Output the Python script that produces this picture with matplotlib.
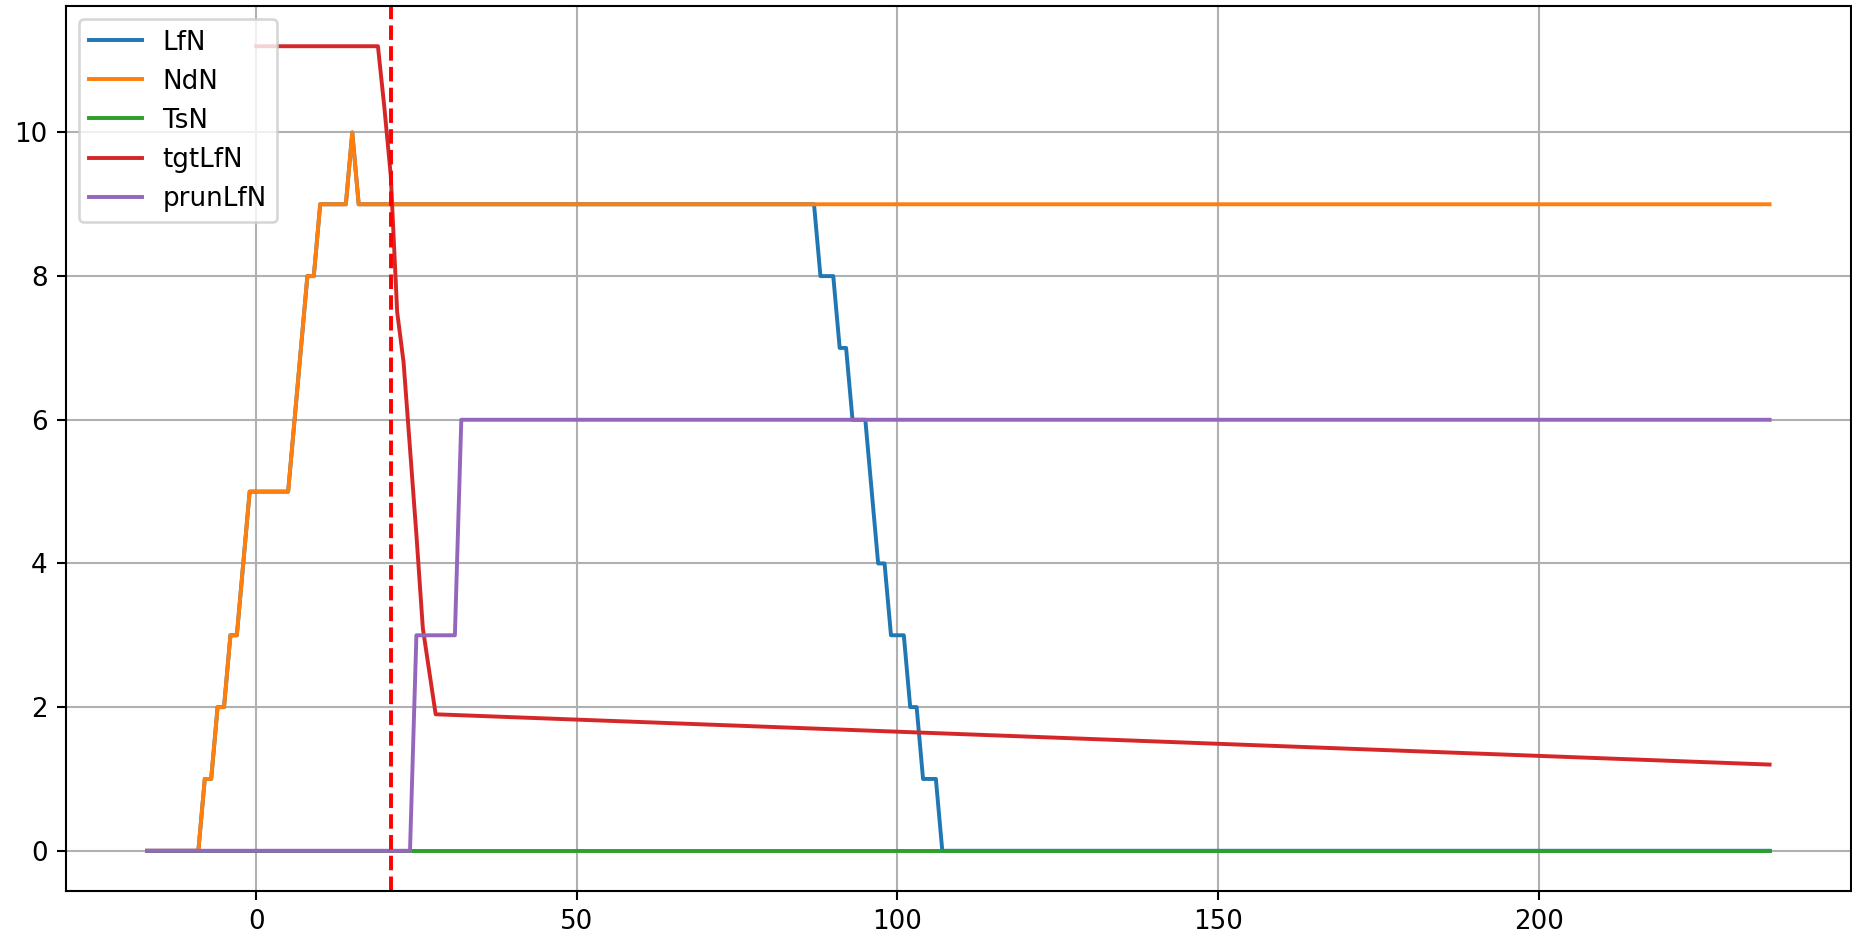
import numpy as np
import matplotlib.pyplot as plt

# breakpoints (x, value)
ndn_x = [-17, -9, -8, -7, -6, -5, -4, -3, -1, 5, 8, 9, 10, 14, 15, 16, 236]
ndn_y = [0, 0, 1, 1, 2, 2, 3, 3, 5, 5, 8, 8, 9, 9, 10, 9, 9]

lfn_x = [-17, -9, -8, -7, -6, -5, -4, -3, -1, 5, 8, 9, 10, 14, 15, 16,
         87, 88, 90, 91, 92, 93, 95, 97, 98, 99, 101, 102, 103, 104, 106, 107, 236]
lfn_y = [0, 0, 1, 1, 2, 2, 3, 3, 5, 5, 8, 8, 9, 9, 10, 9,
         9, 8, 8, 7, 7, 6, 6, 4, 4, 3, 3, 2, 2, 1, 1, 0, 0]

tsn_x = [-17, 236]
tsn_y = [0, 0]

tgt_x = [0, 19, 20, 21, 22, 23, 24, 25, 26, 27, 28, 236]
tgt_y = [11.2, 11.2, 10.35, 9.4, 7.5, 6.8, 5.6, 4.4, 3.1, 2.5, 1.9, 1.2]

prun_x = [-17, 24, 25, 31, 32, 236]
prun_y = [0, 0, 3, 3, 6, 6]

cut_x = 21


def main():
    dpi = 188
    fig = plt.figure(figsize=(1852 / dpi, 938 / dpi), dpi=dpi)
    ax = fig.add_axes([0.0356, 0.0501, 0.9637, 0.9435])

    ax.plot(lfn_x, lfn_y, label='LfN')
    ax.plot(ndn_x, ndn_y, label='NdN')
    ax.plot(tsn_x, tsn_y, label='TsN')
    ax.plot(tgt_x, tgt_y, label='tgtLfN')
    ax.plot(prun_x, prun_y, label='prunLfN')
    ax.axvline(cut_x, color='red', linestyle='--')

    ax.grid(True)
    ax.legend(loc='upper left')

    fig.savefig('out.png', dpi=dpi)
    plt.close(fig)


if __name__ == "__main__":
    main()
